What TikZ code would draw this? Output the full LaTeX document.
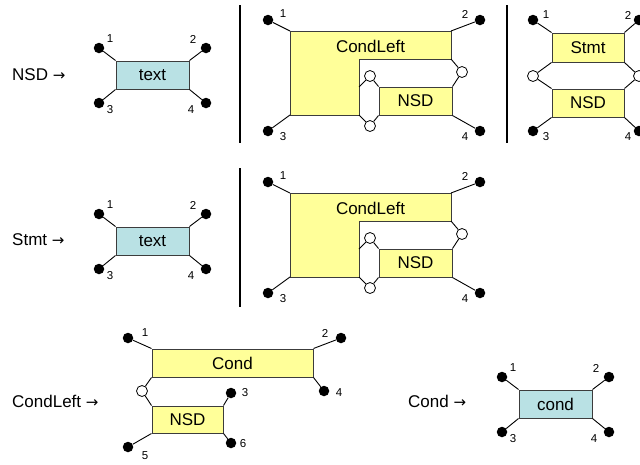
\documentclass[tikz,border=0pt]{standalone}
\usepackage{fontspec}
\setmainfont{Liberation Sans}
\newfontfamily\arrowfont{DejaVu Sans}
\newcommand\rarr{{\arrowfont\fontsize{15}{18}\selectfont →}}
\definecolor{boxblue}{RGB}{185,225,228}
\definecolor{boxyellow}{RGB}{255,255,153}
\definecolor{edgegray}{RGB}{60,60,60}
\tikzset{
  lbl/.style={font=\fontsize{17}{20}\selectfont, anchor=west, inner sep=0pt},
  num/.style={font=\fontsize{11.5}{13}\selectfont, inner sep=0pt},
  term/.style={circle, fill=black, minimum size=10.5pt, inner sep=0pt},
  joint/.style={circle, draw=black, fill=white, minimum size=11pt, inner sep=0pt, line width=0.8pt},
  bluebox/.style={draw=edgegray, fill=boxblue, line width=1pt, inner sep=0pt, font=\fontsize{17}{20}\selectfont},
  yellowbox/.style={draw=edgegray, fill=boxyellow, line width=1pt, inner sep=0pt, font=\fontsize{17}{20}\selectfont},
  wire/.style={line width=0.9pt, black},
  sepline/.style={line width=2.6pt, black},
}
% simple terminal production: #1 prefix, #2 left, #3 top, #4 text
\newcommand\termprod[4]{%
  \begin{scope}[shift={(#2,#3)}]
    \node[bluebox, minimum width=73pt, minimum height=28pt] (#1box) at (36.5,14) {#4};
    \node[term] (#1d1) at (-17,-13) {};
    \node[term] (#1d2) at (90,-13) {};
    \node[term] (#1d3) at (-17,42) {};
    \node[term] (#1d4) at (90,42) {};
    \draw[wire] (#1d1) -- (#1box.north west);
    \draw[wire] (#1d2) -- (#1box.north east);
    \draw[wire] (#1d3) -- (#1box.south west);
    \draw[wire] (#1d4) -- (#1box.south east);
    \node[num] (#1n1) at (-6,-22) {1};
    \node[num] (#1n2) at (77,-22) {2};
    \node[num] (#1n3) at (-6,49) {3};
    \node[num] (#1n4) at (75,49) {4};
  \end{scope}}
% CondLeft-shaped production: #1 prefix, #2 left, #3 top
\newcommand\condprod[3]{%
  \begin{scope}[shift={(#2,#3)}]
    \coordinate (#1a) at (0,0);
    \coordinate (#1b) at (161,0);
    \coordinate (#1c) at (161,28);
    \coordinate (#1d) at (69,28);
    \coordinate (#1e) at (69,84);
    \coordinate (#1f) at (0,84);
    \coordinate (#1g) at (69,56);
    \draw[draw=edgegray, fill=boxyellow, line width=1pt] (#1a) -- (#1b) -- (#1c) -- (#1d) -- (#1e) -- (#1f) -- cycle;
    \node[font=\fontsize{17}{20}\selectfont, inner sep=0pt] (#1cl) at (80.5,15) {CondLeft};
    \node[yellowbox, minimum width=73pt, minimum height=28pt] (#1nsd) at (125.5,70) {NSD};
    \node[term] (#1d1) at (-22,-11) {};
    \node[term] (#1d2) at (190,-11) {};
    \node[term] (#1d3) at (-22,100) {};
    \node[term] (#1d4) at (190,100) {};
    \draw[wire] (#1d1) -- (#1a);
    \draw[wire] (#1d2) -- (#1b);
    \draw[wire] (#1d3) -- (#1f);
    \draw[wire] (#1d4) -- (#1nsd.south east);
    \node[joint] (#1jr) at (172,41) {};
    \node[joint] (#1ju) at (80,45) {};
    \node[joint] (#1jb) at (80,95) {};
    \draw[wire] (#1c) -- (#1jr) -- (#1nsd.north east);
    \draw[wire] (#1g) -- (#1ju) -- (#1nsd.north west);
    \draw[wire] (#1e) -- (#1jb) -- (#1nsd.south west);
    \node[num] (#1n1) at (-7,-17) {1};
    \node[num] (#1n2) at (175,-17) {2};
    \node[num] (#1n3) at (-7,106) {3};
    \node[num] (#1n4) at (175,106) {4};
  \end{scope}}
\begin{document}
\begin{tikzpicture}[x=1pt,y=-1pt]
\useasboundingbox (0,0) rectangle (640,464);
% row labels
\node[lbl] (lnsd) at (12,75) {NSD \rarr};
\node[lbl] (lstmt) at (12,240) {Stmt \rarr};
\node[lbl] (lcl) at (12,401) {CondLeft \rarr};
\node[lbl] (lcond) at (408,401) {Cond \rarr};
% separators
\draw[sepline] (240,5) -- (240,143);
\draw[sepline] (507,5) -- (507,143);
\draw[sepline] (240,168) -- (240,307);
% NSD -> text
\termprod{pa}{116}{61}{text}
% NSD -> CondLeft NSD
\condprod{pb}{290}{31}
% NSD -> Stmt NSD
\node[yellowbox, minimum width=72pt, minimum height=29pt] (cstmt) at (588,47.5) {Stmt};
\node[yellowbox, minimum width=72pt, minimum height=28pt] (cnsd) at (588,103) {NSD};
\node[term] (cd1) at (533,20) {};
\node[term] (cd2) at (639,20) {};
\node[term] (cd3) at (533,131) {};
\node[term] (cd4) at (639,131) {};
\draw[wire] (cd1) -- (cstmt.north west);
\draw[wire] (cd2) -- (cstmt.north east);
\draw[wire] (cd3) -- (cnsd.south west);
\draw[wire] (cd4) -- (cnsd.south east);
\node[joint] (cjl) at (533,76) {};
\node[joint] (cjr) at (639,76) {};
\draw[wire] (cstmt.south west) -- (cjl) -- (cnsd.north west);
\draw[wire] (cstmt.south east) -- (cjr) -- (cnsd.north east);
\node[num] (cn1) at (546,15) {1};
\node[num] (cn2) at (628,15) {2};
\node[num] (cn3) at (546,137) {3};
\node[num] (cn4) at (628,137) {4};
% Stmt -> text
\termprod{pd}{116}{227}{text}
% Stmt -> CondLeft NSD
\condprod{pe}{290}{193}
% CondLeft -> Cond NSD
\node[yellowbox, minimum width=161pt, minimum height=28pt] (fcond) at (232.5,363) {Cond};
\node[yellowbox, minimum width=71pt, minimum height=27pt] (fnsd) at (187.5,419.5) {NSD};
\node[term] (fd1) at (128,338) {};
\node[term] (fd2) at (341,338) {};
\node[term] (fd4) at (324,391) {};
\node[term] (fd3) at (231,393) {};
\node[term] (fd6) at (231,443) {};
\node[term] (fd5) at (128,447) {};
\draw[wire] (fd1) -- (fcond.north west);
\draw[wire] (fd2) -- (fcond.north east);
\draw[wire] (fd4) -- (fcond.south east);
\draw[wire] (fd3) -- (fnsd.north east);
\draw[wire] (fd6) -- (fnsd.south east);
\draw[wire] (fd5) -- (fnsd.south west);
\node[joint] (fj) at (142,391) {};
\draw[wire] (fcond.south west) -- (fj) -- (fnsd.north west);
\node[num] (fn1) at (145,333) {1};
\node[num] (fn2) at (325,333) {2};
\node[num] (fn4) at (339,393) {4};
\node[num] (fn3) at (245,393) {3};
\node[num] (fn6) at (243,444) {6};
\node[num] (fn5) at (145,456) {5};
% Cond -> cond
\termprod{pg}{519}{390}{cond}
\end{tikzpicture}
\end{document}
